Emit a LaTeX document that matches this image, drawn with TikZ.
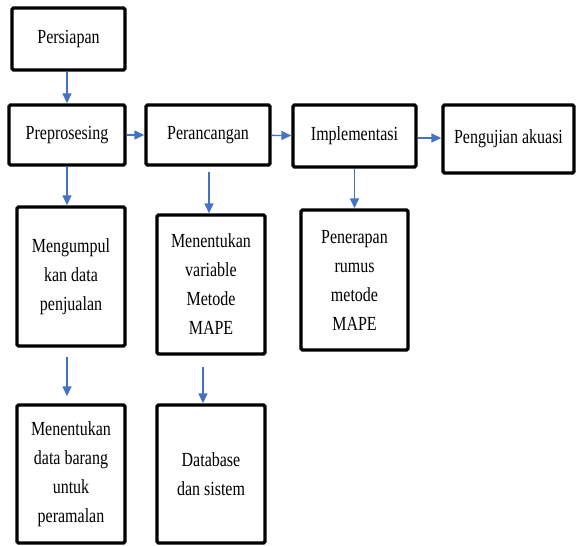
\documentclass[tikz,border=0pt]{standalone}
\usepackage{fontspec}
\setmainfont[FakeStretch=0.8]{Liberation Serif}
\usetikzlibrary{arrows.meta}
\definecolor{flowblue}{RGB}{68,114,196}
\tikzset{
  procbox/.style={draw=black, line width=3.4pt, rounded corners=1.5pt,
    align=center, inner sep=2pt, font=\fontsize{20}{29}\selectfont},
  flow/.style={draw=flowblue, line width=1.4pt,
    -{Triangle[length=10pt,width=9pt]}}
}
\begin{document}
\begin{tikzpicture}[x=1pt,y=-1pt]
      \useasboundingbox (0,0) rectangle (577,545);
      \draw
        (68.5,39) node[procbox, minimum width=113pt, minimum height=62pt] (persiapan){Persiapan}
        (67,135) node[procbox, minimum width=116pt, minimum height=60pt] (prepro){Preprosesing}
        (208,135) node[procbox, minimum width=124pt, minimum height=60pt] (perancangan){Perancangan}
        (354.5,136) node[procbox, minimum width=123pt, minimum height=62pt] (implementasi){Implementasi}
        (508.5,139) node[procbox, minimum width=131pt, minimum height=68pt] (pengujian){Pengujian akuasi}
        (71,276.5) node[procbox, minimum width=108pt, minimum height=139pt] (mengumpul){Mengumpul\\kan data\\penjualan}
        (211,284.5) node[procbox, minimum width=108pt, minimum height=139pt] (varmape){Menentukan\\variable\\Metode\\MAPE}
        (354.5,280) node[procbox, minimum width=107pt, minimum height=140pt] (penerapan){Penerapan\\rumus\\metode\\MAPE}
        (71,474) node[procbox, minimum width=108pt, minimum height=138pt] (databarang){Menentukan\\data barang\\untuk\\peramalan}
        (211,474) node[procbox, minimum width=108pt, minimum height=138pt] (database){Database\\dan sistem};
      \begin{scope}[flow]
        \draw (persiapan.south -| prepro) to (prepro.north);
        \draw (prepro) to (perancangan);
        \draw (perancangan) to (implementasi);
        \draw (implementasi.east) ++(0,2) coordinate (implout) to (implout -| pengujian.west);
        \draw (prepro.south) to (prepro.south |- mengumpul.north);
        \draw[shorten <=5pt] (perancangan.south) ++(1,0) coordinate (peranout) to (peranout |- varmape.north);
        \draw (implementasi.south) to (implementasi.south |- penerapan.north);
        \draw[shorten <=9pt, shorten >=7pt] (mengumpul.south) ++(-4,0) coordinate (mengout) to (mengout |- databarang.north);
        \draw[shorten <=11pt] (varmape.south) ++(-8,0) coordinate (varout) to (varout |- database.north);
      \end{scope}
    \end{tikzpicture}
\end{document}
